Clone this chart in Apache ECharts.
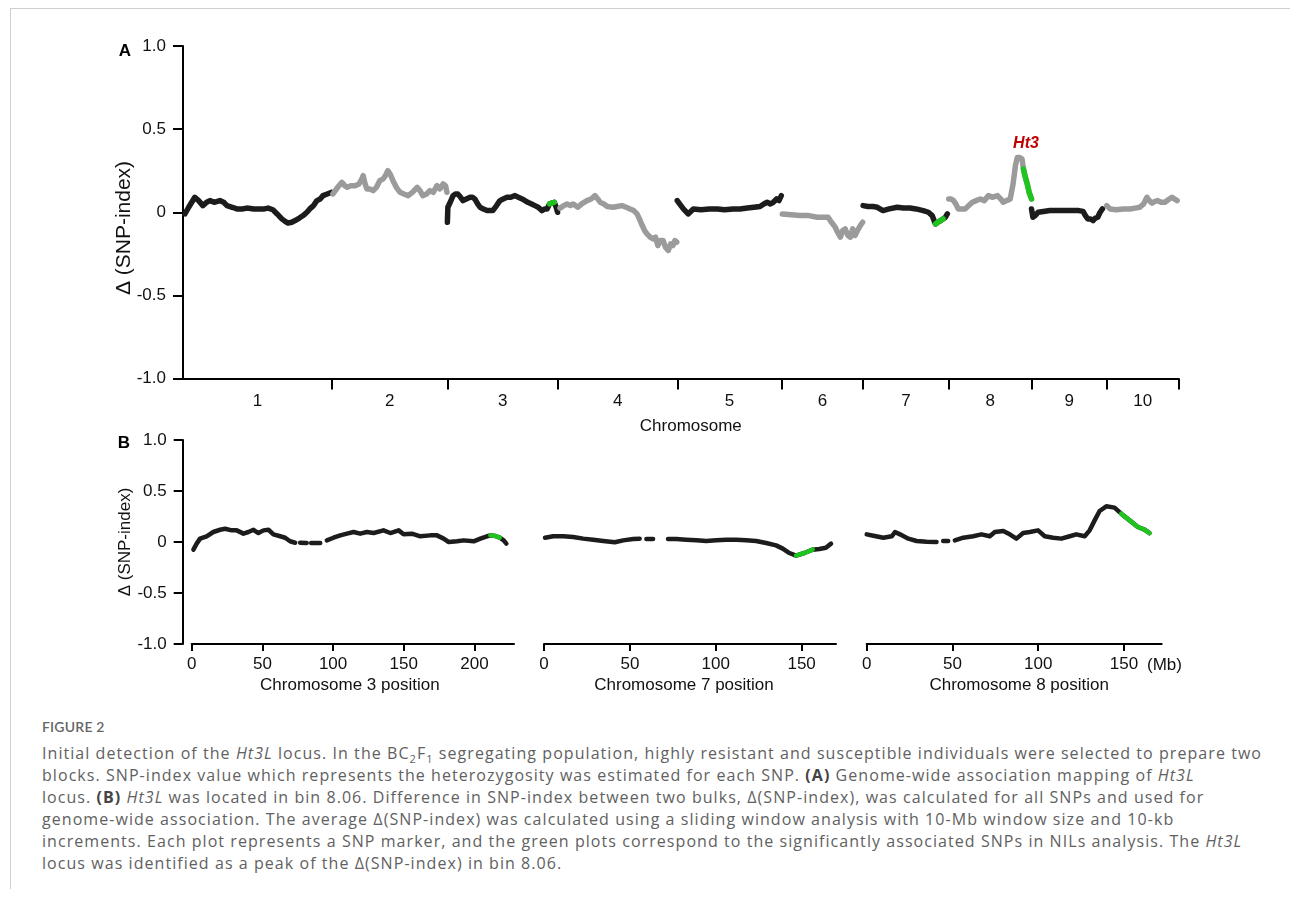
<!DOCTYPE html>
<html>
<head>
<meta charset="utf-8">
<script src="https://cdn.jsdelivr.net/npm/echarts@6/dist/echarts.min.js"></script>
<style>
html,body{margin:0;padding:0;background:#fff;width:1290px;height:902px;overflow:hidden;}
#frame{position:absolute;left:10px;top:8px;width:1280px;height:880px;border-left:1px solid #cfcfcf;border-top:1px solid #cfcfcf;}
#chart{position:absolute;left:0;top:0;width:1290px;height:712px;}
#cap{position:absolute;left:42px;top:718px;font-family:'Open Sans',Lato,sans-serif;color:#616161;white-space:nowrap;}
#cap .fig{font-size:14px;line-height:18px;color:#666;font-family:Lato,'Open Sans',sans-serif;font-weight:600;letter-spacing:0.2px;}
#cap .txt{font-size:16px;line-height:22px;margin-top:6px;}
#cap .ln{display:block;height:22px;}
#cap .ln span{display:inline;}
#cap b{color:#444;font-weight:700;}
#cap sub{font-size:11px;line-height:0;}
</style>
</head>
<body>
<div id="frame"></div>
<div id="chart"></div>
<div id="cap">
<div class="fig">FIGURE 2</div>
<div class="txt" id="captxt">
<div class="ln"><span id="line1">Initial detection of the <i>Ht3L</i> locus. In the BC<sub>2</sub>F<sub>1</sub> segregating population, highly resistant and susceptible individuals were selected to prepare two</span></div>
<div class="ln"><span>blocks. SNP-index value which represents the heterozygosity was estimated for each SNP. <b>(A)</b> Genome-wide association mapping of <i>Ht3L</i></span></div>
<div class="ln"><span>locus. <b>(B)</b> <i>Ht3L</i> was located in bin 8.06. Difference in SNP-index between two bulks, &Delta;(SNP-index), was calculated for all SNPs and used for</span></div>
<div class="ln"><span>genome-wide association. The average &Delta;(SNP-index) was calculated using a sliding window analysis with 10-Mb window size and 10-kb</span></div>
<div class="ln"><span>increments. Each plot represents a SNP marker, and the green plots correspond to the significantly associated SNPs in NILs analysis. The <i>Ht3L</i></span></div>
<div class="ln"><span>locus was identified as a peak of the &Delta;(SNP-index) in bin 8.06.</span></div>
</div>
</div>
<script>
// ---------------- data ----------------
const chrNames = ['1','2','3','4','5','6','7','8','9','10'];
const chrLen = [315, 244, 234, 252, 221, 172, 181, 175, 159, 152]; // Mb
const yTicks = [-1, -0.5, 0, 0.5, 1];
const yTickLabels = ['-1.0', '-0.5', '0', '0.5', '1.0'];

// Panel A: [position within chromosome (Mb), delta SNP-index]
const chr1 = [[4,-0.01],[12,0.03],[25,0.09],[33,0.07],[42,0.04],[50,0.06],[57,0.07],[66,0.06],[78,0.07],[86,0.06],[93,0.04],[104,0.03],[114,0.02],[125,0.02],[135,0.025],[150,0.02],[163,0.02],[172,0.02],[180,0.025],[190,0.015],[199,-0.01],[209,-0.04],[216,-0.055],[222,-0.065],[230,-0.06],[237,-0.05],[246,-0.035],[254,-0.02],[262,0.0],[268,0.02],[276,0.04],[283,0.07],[290,0.08],[296,0.10],[305,0.11],[314,0.12]];
const chr2 = [[2,0.11],[12,0.15],[21,0.18],[27,0.16],[32,0.15],[40,0.16],[49,0.16],[57,0.17],[63,0.20],[66,0.22],[70,0.17],[74,0.14],[80,0.14],[87,0.13],[94,0.15],[101,0.19],[108,0.20],[113,0.22],[118,0.25],[123,0.23],[129,0.19],[136,0.15],[144,0.12],[152,0.11],[161,0.10],[170,0.12],[180,0.15],[186,0.13],[192,0.10],[200,0.11],[207,0.13],[214,0.12],[222,0.16],[228,0.14],[235,0.17],[240,0.16],[243,0.12]];
const chr3 = [[0,-0.06],[1,0.03],[6,0.06],[12,0.10],[17,0.11],[22,0.11],[28,0.09],[33,0.07],[40,0.08],[48,0.09],[53,0.09],[58,0.08],[64,0.05],[69,0.03],[76,0.02],[84,0.01],[90,0.01],[96,0.01],[104,0.04],[111,0.07],[118,0.08],[126,0.09],[134,0.09],[143,0.10],[150,0.09],[158,0.08],[164,0.07],[170,0.06],[178,0.05],[185,0.04],[192,0.03],[200,0.01],[206,0.02],[211,0.02],[216,0.05],[220,0.06],[226,0.06],[230,0.03],[233,0.0]];
const chr4 = [[4,0.025],[12,0.04],[19,0.05],[26,0.04],[32,0.05],[42,0.03],[50,0.05],[61,0.07],[70,0.08],[78,0.10],[84,0.08],[89,0.06],[97,0.05],[104,0.035],[116,0.03],[125,0.035],[135,0.04],[144,0.03],[152,0.02],[160,0.01],[167,-0.01],[172,-0.04],[178,-0.08],[183,-0.11],[188,-0.13],[195,-0.15],[201,-0.16],[206,-0.15],[211,-0.20],[216,-0.17],[222,-0.17],[227,-0.21],[233,-0.23],[238,-0.19],[243,-0.20],[247,-0.17],[251,-0.18]];
const chr5 = [[0,0.07],[5,0.05],[13,0.02],[23,-0.01],[34,0.02],[50,0.015],[68,0.02],[85,0.02],[100,0.015],[118,0.02],[133,0.02],[148,0.025],[162,0.03],[175,0.035],[183,0.05],[190,0.06],[197,0.05],[203,0.06],[210,0.08],[215,0.07],[220,0.10]];
const chr6 = [[1,-0.01],[20,-0.015],[39,-0.02],[57,-0.02],[75,-0.03],[90,-0.03],[98,-0.03],[105,-0.06],[113,-0.09],[118,-0.12],[124,-0.15],[129,-0.11],[134,-0.10],[140,-0.14],[145,-0.15],[150,-0.10],[155,-0.14],[160,-0.11],[166,-0.08],[171,-0.06]];
const chr7 = [[0,0.04],[10,0.035],[21,0.035],[30,0.03],[42,0.01],[55,0.02],[72,0.03],[85,0.025],[99,0.025],[112,0.02],[127,0.01],[138,0.0],[146,-0.02],[150,-0.05],[153,-0.07],[158,-0.06],[164,-0.05],[169,-0.04],[174,-0.03],[178,-0.01]];
const chr8 = [[0,0.08],[5,0.08],[10,0.07],[15,0.05],[20,0.02],[28,0.02],[35,0.02],[42,0.04],[50,0.06],[58,0.07],[67,0.08],[75,0.07],[84,0.10],[92,0.09],[103,0.10],[110,0.08],[115,0.06],[122,0.07],[130,0.08],[136,0.17],[141,0.28],[145,0.33],[150,0.33],[155,0.32],[158,0.26],[162,0.21],[166,0.17],[170,0.12],[175,0.08]];
const chr9 = [[0,0.02],[3,-0.03],[8,-0.02],[14,0.0],[25,0.005],[39,0.01],[60,0.01],[81,0.01],[100,0.01],[109,0.005],[114,-0.02],[119,-0.04],[125,-0.04],[130,-0.05],[135,-0.035],[140,-0.03],[145,0.0],[150,0.02]];
const chr10 = [[0,0.04],[7,0.02],[20,0.015],[35,0.02],[49,0.02],[60,0.025],[70,0.03],[78,0.05],[85,0.09],[90,0.07],[96,0.055],[102,0.065],[108,0.07],[115,0.06],[123,0.06],[130,0.075],[138,0.09],[143,0.08],[149,0.07]];
// significant (green) ranges in panel A, Mb within chromosome
const sigA3 = [216, 226];
const sigA7 = [152, 170];
const sigA8 = [157, 175];

// Panel B: chromosome 3, 7, 8 positions (Mb) and delta SNP-index (null = gap)
const posTicksB3 = [0, 50, 100, 150, 200];
const posTicksB7 = [0, 50, 100, 150];
const posTicksB8 = [0, 50, 100, 150];
const chr3B = [[1.2,-0.075],[3.5,-0.016],[5.9,0.033],[10.6,0.056],[15.3,0.098],[20.1,0.12],[23.6,0.13],[28.3,0.114],[31.9,0.114],[36.6,0.082],[40.1,0.098],[43.7,0.12],[47.2,0.088],[50.8,0.114],[54.3,0.12],[57.8,0.075],[62.6,0.056],[66.1,0.042],[69.6,0.007],[73.2,-0.007],[75,null],[76.7,-0.007],[81.4,-0.01],[83,null],[84.5,-0.01],[90.9,-0.01],[93,null],[95.6,0.016],[100.3,0.042],[105.1,0.065],[109.8,0.082],[114.5,0.098],[119.2,0.082],[123.9,0.098],[128.7,0.088],[135.7,0.114],[140.5,0.088],[146.4,0.114],[149.9,0.075],[155.8,0.082],[161.7,0.056],[168.8,0.065],[173.5,0.065],[178.2,0.033],[181.8,0.0],[187.7,0.007],[192.4,0.016],[199.5,0.007],[204.2,0.033],[208.9,0.056],[211.3,0.065],[214.8,0.059],[217.9,0.042],[220.7,0.016],[222.6,-0.016]];
const chr7B = [[0.6,0.042],[5.4,0.056],[11.2,0.056],[17.0,0.049],[22.8,0.033],[28.6,0.023],[34.5,0.01],[41.2,-0.003],[46.1,0.016],[51.9,0.029],[55.7,0.033],[57.5,null],[59.6,0.029],[63.5,0.029],[68,null],[72.2,0.029],[77.0,0.029],[82.8,0.023],[88.7,0.016],[94.5,0.01],[100.3,0.016],[106.1,0.023],[111.9,0.023],[117.7,0.016],[123.5,0.01],[129.3,-0.01],[135.1,-0.033],[139.0,-0.065],[142.9,-0.108],[146.7,-0.134],[151.6,-0.108],[156.4,-0.075],[160.3,-0.069],[164.1,-0.056],[167.1,-0.016]];
const chr8B = [[0,0.075],[3.9,0.062],[9.7,0.042],[14.6,0.056],[16.5,0.098],[19.4,0.075],[24.3,0.033],[29.1,0.01],[34.9,0.003],[40.7,0.0],[42.5,null],[44.6,0.01],[47.5,0.01],[49.5,null],[51.4,0.016],[56.3,0.042],[62.1,0.056],[66.9,0.075],[71.8,0.056],[74.7,0.098],[79.6,0.108],[83.4,0.075],[87.3,0.033],[91.2,0.088],[95.1,0.098],[99.9,0.114],[103.8,0.056],[108.7,0.042],[113.5,0.033],[118.4,0.056],[122.2,0.075],[127.1,0.056],[130.0,0.114],[132.9,0.212],[135.8,0.304],[139.7,0.35],[144.5,0.337],[148.4,0.278],[153.3,0.212],[158.1,0.147],[162.0,0.121],[164.9,0.088]];
const sigB3 = [211, 218];
const sigB7 = [146, 157];
const sigB8 = [148, 165];

// ---------------- caption fit ----------------
(function fitCaption() {
  const target = 1220; // width of first caption line
  const l1 = document.getElementById('line1');
  const w = l1.getBoundingClientRect().width;
  const n = l1.textContent.length;
  const ls = Math.max(-1, Math.min(2, (target - w) / n));
  document.getElementById('captxt').style.letterSpacing = ls.toFixed(3) + 'px';
})();

// ---------------- styles ----------------
const BLACK = '#1c1c1c', GREY = '#9b9b9b', GREEN = '#1fc41f';
const FONT = "'Liberation Sans', Arial, sans-serif";
const AX = '#000';

const offsets = [];
let acc = 0;
chrLen.forEach(l => { offsets.push(acc); acc += l; });
const total = acc;
const bounds = offsets.map((o, i) => o + chrLen[i]);
const mids = offsets.map((o, i) => o + chrLen[i] / 2);
const chrA = [chr1, chr2, chr3, chr4, chr5, chr6, chr7, chr8, chr9, chr10];

function yFmt(v) {
  const i = yTicks.findIndex(t => Math.abs(t - v) < 1e-6);
  return i >= 0 ? yTickLabels[i] : '';
}
const series = [];
chrA.forEach((d, i) => {
  series.push({
    type: 'line', xAxisIndex: 0, yAxisIndex: 0, symbol: 'none', silent: true, z: 2,
    data: d.map(p => [offsets[i] + p[0], p[1]]),
    lineStyle: { color: i % 2 ? GREY : BLACK, width: 5.5, cap: 'round', join: 'round' }
  });
});
function sig(d, range, off, ax, w) {
  return {
    type: 'line', xAxisIndex: ax, yAxisIndex: ax, symbol: 'none', silent: true, z: 4,
    data: d.filter(p => p[1] !== null && p[0] >= range[0] && p[0] <= range[1]).map(p => [off + p[0], p[1]]),
    lineStyle: { color: GREEN, width: w, cap: 'round', join: 'round' }
  };
}
series.push(sig(chr3, sigA3, offsets[2], 0, 5.5));
series.push(sig(chr7, sigA7, offsets[6], 0, 5.5));
series.push(sig(chr8, sigA8, offsets[7], 0, 5.5));
[chr3B, chr7B, chr8B].forEach((d, k) => {
  series.push({
    type: 'line', xAxisIndex: k + 1, yAxisIndex: k + 1, symbol: 'none', silent: true, z: 2,
    connectNulls: false,
    data: d,
    lineStyle: { color: BLACK, width: 4.5, cap: 'round', join: 'round' }
  });
});
series.push(sig(chr3B, sigB3, 0, 1, 4.5));
series.push(sig(chr7B, sigB7, 0, 2, 4.5));
series.push(sig(chr8B, sigB8, 0, 3, 4.5));

const txt = { fontSize: 17, color: '#111', fontFamily: FONT };
function xB(idx, max, ticks, name, pad) {
  return {
    gridIndex: idx, type: 'value', min: 0, max: max,
    axisLine: { show: true, onZero: false, lineStyle: { color: AX, width: 2 } },
    axisTick: { show: true, customValues: ticks, length: 7, lineStyle: { color: AX, width: 2 } },
    axisLabel: { customValues: ticks, margin: 12, ...txt },
    splitLine: { show: false },
    name: name, nameLocation: 'middle', nameGap: 33,
    nameTextStyle: { ...txt, padding: pad }
  };
}
const option = {
  animation: false,
  backgroundColor: 'transparent',
  grid: [
    { left: 183, top: 46, width: 995.6, height: 332.5 },
    { left: 191.7, top: 440, width: 322.3, height: 204 },
    { left: 544, top: 440, width: 292, height: 204 },
    { left: 866.7, top: 440, width: 295, height: 204 }
  ],
  xAxis: [
    {
      gridIndex: 0, type: 'value', min: 0, max: total,
      axisLine: { show: true, onZero: false, lineStyle: { color: AX, width: 2 } },
      axisTick: { show: true, customValues: bounds, length: 11, lineStyle: { color: AX, width: 2 } },
      axisLabel: {
        customValues: mids, margin: 14, ...txt,
        formatter: v => { const i = mids.findIndex(m => Math.abs(m - v) < 0.01); return i >= 0 ? chrNames[i] : ''; }
      },
      splitLine: { show: false },
      name: 'Chromosome', nameLocation: 'middle', nameGap: 39,
      nameTextStyle: { ...txt, padding: [0, 0, 0, 20] }
    },
    xB(1, 228, posTicksB3, 'Chromosome 3 position', [0, 6, 0, 0]),
    xB(2, 170, posTicksB7, 'Chromosome 7 position', [0, 12, 0, 0]),
    xB(3, 172, posTicksB8, 'Chromosome 8 position', [0, 0, 0, 10])
  ],
  yAxis: [
    {
      gridIndex: 0, type: 'value', min: -1, max: 1, interval: 0.5,
      axisLine: { show: true, onZero: false, lineStyle: { color: AX, width: 2 } },
      axisTick: { show: true, length: 10, lineStyle: { color: AX, width: 2 } },
      axisLabel: { margin: 17, formatter: yFmt, ...txt },
      splitLine: { show: false }
    },
    {
      gridIndex: 1, type: 'value', min: -1, max: 1, interval: 0.5, offset: 9,
      axisLine: { show: true, onZero: false, lineStyle: { color: AX, width: 2 } },
      axisTick: { show: true, length: 9, lineStyle: { color: AX, width: 2 } },
      axisLabel: { margin: 16, formatter: yFmt, ...txt },
      splitLine: { show: false }
    },
    { gridIndex: 2, type: 'value', min: -1, max: 1, show: false },
    { gridIndex: 3, type: 'value', min: -1, max: 1, show: false }
  ],
  graphic: [
    { type: 'text', x: 125, y: 51, style: { text: 'A', font: 'bold 17px ' + FONT, fill: '#000', textAlign: 'center', textVerticalAlign: 'middle' } },
    { type: 'text', x: 124, y: 443, style: { text: 'B', font: 'bold 17px ' + FONT, fill: '#000', textAlign: 'center', textVerticalAlign: 'middle' } },
    { type: 'text', x: 1026, y: 143.5, style: { text: 'Ht3', font: 'italic bold 16px ' + FONT, fill: '#c00000', textAlign: 'center', textVerticalAlign: 'middle' } },
    { type: 'text', x: 124, y: 228, rotation: Math.PI / 2, style: { text: 'Δ (SNP-index)', font: '21px ' + FONT, fill: '#111', textAlign: 'center', textVerticalAlign: 'middle' } },
    { type: 'text', x: 125, y: 542, rotation: Math.PI / 2, style: { text: 'Δ (SNP-index)', font: '17px ' + FONT, fill: '#111', textAlign: 'center', textVerticalAlign: 'middle' } },
    { type: 'text', x: 1147, y: 665, style: { text: '(Mb)', font: '17px ' + FONT, fill: '#111', textAlign: 'left', textVerticalAlign: 'middle' } }
  ],
  series: series
};
const chart = echarts.init(document.getElementById('chart'));
chart.setOption(option);
</script>
</body>
</html>
